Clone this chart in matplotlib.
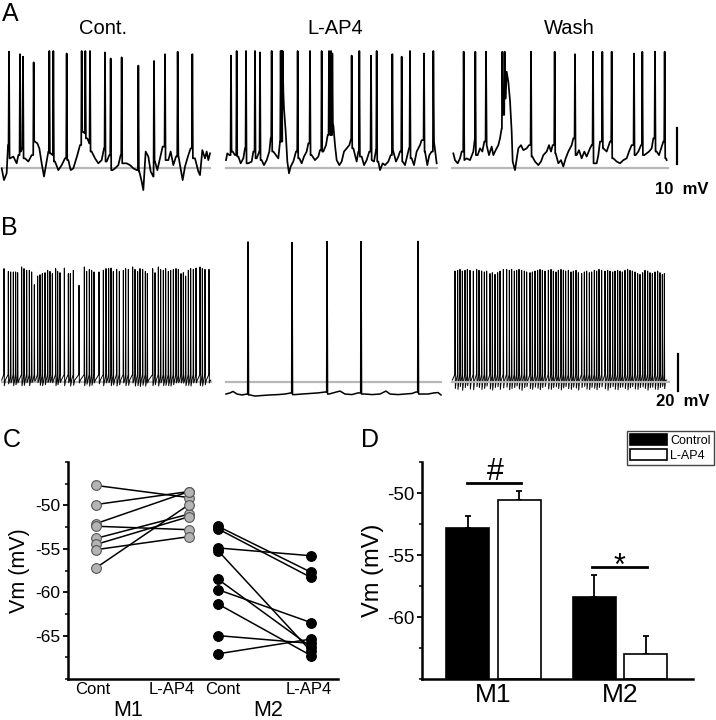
import numpy as np
import matplotlib.pyplot as plt
from matplotlib.ticker import MultipleLocator

plt.rcParams['font.family'] = ['Liberation Sans', 'DejaVu Sans']
plt.rcParams['axes.unicode_minus'] = False

# ---- A: current clamp traces (ms, mV relative to grey reference line)
a_cont_base_t = [15, 36, 60, 72, 90, 120, 150, 165, 186, 198, 225, 255, 285, 315, 336, 354, 375, 396, 420, 435,
                 456, 474, 495, 525, 555, 585, 615, 636, 660, 696, 720, 744, 765, 786, 804, 825, 855, 885, 915, 936,
                 960, 984, 1014, 1035, 1065, 1086, 1110, 1140, 1170, 1200, 1230, 1254, 1275, 1290, 1311, 1335, 1356,
                 1380, 1395, 1416, 1440, 1464, 1485, 1515, 1536, 1560, 1584, 1605, 1620, 1644, 1665, 1695, 1716, 1731,
                 1755, 1785, 1800, 1821, 1845, 1860, 1875, 1890]
a_cont_base_v = [0.0, -3.3, -1.4, 6.5, 2.8, 3.3, 1.4, 3.7, 4.7, 5.6, 2.8, 1.9, 3.7, 7.5, 7.0, 5.6, 1.4, -2.3, 1.9, 4.7,
                 4.2, 3.7, 1.9, -0.5, 0.9, 2.8, 2.3, -0.5, 0.0, 3.7, 6.5, 10.3, 9.8, 8.4, 7.0, 4.7, 2.8, 1.4, 2.3, 5.6,
                 1.9, 3.7, -0.5, 0.0, 0.9, 3.7, 1.4, 1.4, 0.9, 0.0, -0.5, -0.9, -3.7, -6.1, 4.7, 3.3, -0.9, -2.3, 1.9,
                 -0.5, 2.8, 6.1, 4.7, 2.3, 4.7, 0.9, 3.3, 3.7, 0.9, -3.3, 0.5, 3.7, 5.6, 6.1, 2.8, -0.9, -1.9, 5.1,
                 2.8, 4.7, 2.3, 4.2]
a_cont_spk_t = [81, 180, 207, 303, 444, 480, 600, 735, 768, 810, 945, 996, 1095, 1245, 1386, 1485, 1599, 1731]
a_cont_spk_v = [32.7, 32.0, 31.3, 29.7, 32.9, 32.9, 32.2, 32.9, 32.9, 32.9, 32.5, 30.8, 31.1, 28.8, 30.1, 32.0,
                32.7, 32.0]

a_lap4_base_t = [54, 66, 84, 114, 135, 165, 186, 210, 225, 255, 285, 300, 330, 354, 375, 396, 420, 444, 456, 480,
                 504, 525, 540, 570, 576, 591, 606, 621, 636, 660, 684, 714, 735, 756, 780, 795, 825, 855, 885, 900,
                 930, 954, 969, 1020, 1035, 1050, 1074, 1095, 1116, 1140, 1164, 1176, 1200, 1230, 1245, 1275, 1296,
                 1320, 1344, 1365, 1386, 1404, 1425, 1440, 1464, 1485, 1515, 1536, 1560, 1584, 1605, 1620, 1644,
                 1665, 1686, 1701, 1725, 1746, 1770, 1800, 1815, 1845, 1866, 1884, 1905, 1926, 1944, 1950]
a_lap4_base_v = [2.3, 4.2, 3.7, 4.7, 3.7, 3.3, 1.4, 2.8, 5.6, 1.4, 1.9, 4.7, 2.8, 4.7, 2.3, 0.9, 2.3, 4.7, 8.4, 4.7,
                 3.7, 2.8, 7.5, 21.5, 16.8, 10.3, 1.9, -1.4, 0.5, 1.9, 4.7, 2.8, 1.4, 3.3, 4.7, 7.0, 3.7, 2.3, 3.3,
                 5.1, 4.7, 6.5, 9.3, 12.1, 6.5, 2.3, 0.9, 1.9, 4.7, 5.6, 6.5, 7.9, 5.6, 1.9, 4.7, 3.3, 0.9, 2.3, 4.7,
                 2.3, 1.9, 5.1, 1.9, -0.5, 1.4, 0.9, 1.9, 3.7, 4.7, 1.9, 3.3, 4.7, 1.9, 0.9, 3.7, 5.6, 2.8, 0.9, 4.7,
                 6.5, 7.9, 4.7, 0.9, 3.7, 4.7, 7.5, 2.8, 1.4]
a_lap4_spk_t = [99, 150, 234, 315, 360, 465, 546, 555, 564, 699, 810, 915, 981, 999, 1011, 1185, 1254, 1359, 1410,
                1551, 1635, 1710, 1836, 1920]
a_lap4_spk_v = [31.6, 32.9, 32.9, 32.9, 32.5, 32.9, 32.9, 32.9, 32.9, 32.9, 32.9, 32.9, 32.9, 32.9, 32.2, 31.6,
                32.9, 31.6, 32.9, 32.0, 31.3, 32.9, 32.2, 32.9]

a_wash_base_t = [75, 90, 114, 135, 150, 174, 195, 225, 255, 270, 294, 315, 336, 354, 375, 396, 420, 435, 456, 480,
                 495, 510, 528, 546, 555, 570, 585, 600, 609, 630, 660, 684, 705, 735, 756, 786, 810, 840, 864, 885,
                 915, 936, 954, 969, 996, 1020, 1044, 1065, 1086, 1110, 1140, 1155, 1185, 1206, 1230, 1254, 1275,
                 1305, 1320, 1344, 1365, 1380, 1395, 1425, 1455, 1485, 1515, 1545, 1575, 1605, 1635, 1656, 1680,
                 1716, 1740, 1764, 1794, 1815, 1836, 1860, 1875, 1905, 1926, 1950, 1965, 1989, 1995]
a_wash_base_v = [4.2, 2.3, 1.4, 2.8, 4.7, 2.3, 2.8, 2.3, 4.7, 8.4, 3.7, 5.6, 4.7, 7.5, 6.5, 3.7, 6.1, 3.7, 5.1, 6.5,
                 8.4, 11.2, 15.0, 19.6, 27.1, 24.3, 19.0, 10.3, 1.9, -0.5, 5.6, 6.5, 5.1, 5.6, 6.5, 3.3, 1.9, 0.9,
                 1.9, 3.7, 4.7, 6.5, 4.7, 6.5, 4.2, 1.4, 2.3, 0.5, 2.8, 4.7, 6.5, 8.4, 3.7, 5.1, 2.8, 4.7, 3.3, 5.6,
                 6.5, 1.4, 1.4, 3.7, 7.5, 5.6, 4.7, 7.5, 2.8, 1.9, 1.4, 2.3, 2.8, 4.7, 6.5, 3.7, 4.7, 6.5, 3.7, 4.2,
                 4.7, 5.6, 8.4, 4.7, 3.7, 6.1, 7.5, 2.8, 2.3]
a_wash_spk_t = [168, 273, 369, 516, 537, 774, 987, 1170, 1332, 1416, 1500, 1701, 1776, 1890, 1977]
a_wash_spk_v = [32.7, 32.7, 32.7, 32.7, 32.7, 32.7, 32.7, 32.0, 32.7, 32.7, 32.7, 32.2, 32.7, 32.7, 32.7]

# ---- B: long recordings (s, mV relative to grey line)
b_cont_spk_t = [0.36, 0.75, 0.96, 1.20, 1.41, 1.59, 1.95, 2.16, 2.40, 2.64, 2.85, 3.09, 3.39, 3.60, 3.81, 4.05,
                4.29, 4.50, 4.71, 5.01, 5.19, 5.40, 5.79, 6.15, 6.33, 6.60, 7.11, 7.59, 7.80, 8.04, 8.25, 8.46,
                8.91, 9.30, 9.54, 9.78, 9.99, 10.20, 10.50, 10.74, 11.10, 11.31, 11.55, 11.94, 12.15, 12.39, 12.60,
                12.84, 13.08, 13.26, 13.74, 13.95, 14.25, 14.46, 14.70, 14.91, 15.15, 15.36, 15.60, 15.84, 16.05,
                16.29, 16.50, 16.71, 16.95, 17.16, 17.40, 17.64, 18.00, 18.21, 18.45, 18.81]
b_cont_spk_v = [61.3, 59.8, 59.5, 59.5, 59.5, 59.1, 62.2, 61.3, 60.4, 60.4, 59.5, 52.6, 57.3, 58.0, 58.6, 59.1,
                60.4, 59.8, 58.6, 61.3, 59.8, 59.1, 61.6, 58.6, 58.6, 60.4, 52.3, 62.2, 59.8, 60.9, 60.4, 59.5,
                59.5, 60.4, 61.3, 61.3, 61.6, 59.8, 60.9, 59.8, 60.4, 61.3, 60.9, 62.2, 60.9, 59.8, 61.3, 60.9,
                59.8, 58.6, 61.3, 59.1, 62.2, 60.9, 60.4, 61.3, 59.8, 60.4, 60.9, 61.3, 60.9, 58.6, 59.1, 57.3,
                60.4, 61.3, 60.9, 61.6, 62.2, 61.3, 60.9, 60.9]
b_cont_trough = [-2.0, -1.0, -0.5, -2.0, -1.5, -0.5, -2.0, -1.8, -0.4, -2.0, -0.3, 0.5, -0.3, -1.8, -2.0, -1.5,
                 -0.3, -0.2, -0.4, -2.0, -1.5, -0.3, -2.0, -0.4, -2.2, -1.8, -0.5, -2.0, -1.2, -2.2, -1.8, -0.5,
                 -1.0, -2.0, -0.5, -0.4, -2.0, -1.6, -2.2, -1.5, -0.5, -2.0, -1.8, -0.5, -2.2, -2.0, -2.4, -1.8,
                 -2.2, -0.5, -2.0, -1.5, -2.2, -0.5, -2.0, -1.8, -2.0, -2.2, -1.5, -0.5, -0.4, -0.5, -0.6, -2.0,
                 -1.8, -2.2, -0.5, -0.5, -2.0, -2.2, -1.5, -0.5]

b_lap4_base_t = [0.54, 0.90, 1.17, 1.53, 1.98, 2.43, 2.70, 3.15, 3.78, 4.50, 5.22, 5.85, 6.39, 6.75, 7.38, 8.10,
                 8.82, 9.45, 9.81, 10.17, 10.80, 11.25, 11.88, 12.42, 13.05, 13.68, 14.40, 14.94, 15.30, 16.02,
                 16.65, 17.28, 17.64, 18.00, 18.72, 19.26, 19.62, 19.89]
b_lap4_base_v = [-6.5, -5.9, -5.1, -6.5, -7.0, -6.5, -7.0, -7.6, -7.3, -7.0, -6.8, -6.5, -5.9, -6.8, -6.5, -6.2,
                 -5.9, -5.4, -6.5, -5.9, -4.9, -6.5, -6.8, -5.9, -6.5, -6.8, -6.5, -4.9, -6.5, -6.8, -6.5, -6.2,
                 -5.4, -6.5, -6.5, -5.9, -5.7, -7.0]
b_lap4_spk_t = [2.52, 6.48, 9.63, 12.69, 17.82]
b_lap4_spk_v = [75.7, 75.4, 75.9, 75.9, 76.0]

b_wash_spk_t = [0.90, 1.14, 1.35, 1.56, 1.80, 2.01, 2.25, 2.55, 2.85, 3.06, 3.30, 3.54, 3.75, 4.05, 4.26, 4.50,
                4.74, 4.95, 5.25, 5.55, 5.79, 6.00, 6.24, 6.45, 6.66, 6.90, 7.14, 7.35, 7.65, 7.86, 8.10, 8.34,
                8.55, 8.76, 9.00, 9.30, 9.54, 9.75, 9.99, 10.20, 10.44, 10.65, 10.86, 11.10, 11.34, 11.55, 11.79,
                12.00, 12.30, 12.54, 12.75, 12.99, 13.20, 13.44, 13.65, 13.86, 14.10, 14.40, 14.64, 14.85, 15.09,
                15.30, 15.54, 15.75, 15.96, 16.20, 16.44, 16.65, 16.86, 17.10, 17.34, 17.55, 17.79, 18.00, 18.24,
                18.45, 18.66, 18.90, 19.14, 19.35, 19.56, 19.74]
b_wash_spk_v = [60.0, 60.4, 60.9, 60.0, 60.4, 60.9, 60.4, 60.0, 60.9, 60.4, 60.0, 59.5, 60.0, 58.6, 59.1, 58.2,
                59.1, 60.0, 60.9, 60.9, 60.4, 60.9, 60.0, 60.4, 60.9, 60.4, 60.0, 59.5, 59.1, 59.5, 60.0, 60.4,
                60.9, 60.4, 60.0, 60.4, 60.9, 60.0, 59.5, 60.4, 60.9, 60.4, 60.0, 60.4, 59.5, 60.0, 60.4, 59.1,
                58.6, 59.5, 60.0, 59.1, 59.5, 60.4, 60.0, 60.9, 60.4, 60.0, 60.4, 60.0, 59.5, 60.0, 60.4, 60.0,
                59.5, 60.4, 60.9, 60.4, 60.0, 59.5, 58.6, 58.2, 59.1, 60.4, 60.0, 59.1, 58.6, 59.5, 60.0, 59.1,
                58.2, 58.6]
b_wash_trough = [-3.5, -4.0, -2.5, -4.5, -3.0, -2.0, -3.8, -4.2, -2.5, -3.0, -4.0, -3.5, -2.2, -3.8, -4.4, -3.0,
                 -2.5, -4.0, -3.2, -2.8, -4.2, -3.5, -3.0, -2.2, -3.8, -4.5, -3.0, -2.5, -3.6, -4.0, -2.8, -3.4,
                 -4.2, -3.0, -2.4, -3.8, -4.0, -3.0, -2.6, -3.5, -4.3, -3.2, -2.5, -3.6, -4.0, -2.8, -3.3, -4.4,
                 -3.0, -2.4, -3.8, -4.1, -2.9, -3.4, -4.2, -3.0, -2.6, -3.7, -4.5, -3.1, -2.5, -3.9, -4.2, -3.0,
                 -2.7, -3.6, -4.3, -3.2, -2.5, -3.8, -4.0, -3.0, -2.6, -3.5, -4.4, -3.1, -2.8, -3.9, -4.1, -3.0,
                 -2.4, -3.6]

# ---- C: individual cells (mV)
m1_cont = [-47.7, -49.9, -52.1, -52.4, -53.8, -54.5, -55.1, -57.2]
m1_lap4 = [-49.1, -48.4, -48.4, -52.8, -51.0, -51.3, -53.6, -49.9]
m2_cont = [-52.4, -52.7, -54.9, -55.2, -58.5, -59.7, -61.35, -65.0, -67.1]
m2_lap4 = [-57.7, -58.3, -55.8, -66.8, -66.3, -63.5, -67.3, -65.9, -65.4]

# ---- D: means +- SEM (mV)
groups = ['M1', 'M2']
ctrl_mean = [-52.85, -58.4]
ctrl_err = [1.0, 1.75]
lap4_mean = [-50.55, -63.0]
lap4_err = [0.68, 1.5]

W, H = 716, 720
fig = plt.figure(figsize=(W / 100, H / 100), dpi=100)


def px_axes(x0, y0, x1, y1):
    return fig.add_axes([x0 / W, 1 - y1 / H, (x1 - x0) / W, (y1 - y0) / H])


def spike_trace(bt, bv, st, sv, rise, fall):
    bt = np.asarray(bt, float)
    bv = np.asarray(bv, float)
    near = np.zeros(len(bt), bool)
    for s in st:
        near |= np.abs(bt - s) <= fall
    pts = [(t, v) for t, v, n in zip(bt, bv, near) if not n]
    for s, p in zip(st, sv):
        prev = bv[bt < s]
        nxt = bv[bt > s]
        vp = prev[-1] if len(prev) else nxt[0]
        vn = nxt[0] if len(nxt) else vp
        pts += [(s - rise, vp), (s, p), (s + fall, vn)]
    pts.sort()
    t, v = zip(*pts)
    return t, v


def train_trace(st, sv, trough, t0, t1, lo=1.0, hi=4.0):
    pts = [(t0, lo)]
    for s, p, m in zip(st, sv, trough):
        pts += [(s - 0.02, hi), (s, p), (s + 0.03, m), (s + 0.12, lo)]
    pts.append((t1, lo))
    t, v = zip(*pts)
    return t, v


grey = '#b8b8b8'

# panel A
a_specs = [
    ((0, 215), 1935, a_cont_base_t, a_cont_base_v, a_cont_spk_t, a_cont_spk_v, (15, 1890)),
    ((220, 445), 2025, a_lap4_base_t, a_lap4_base_v, a_lap4_spk_t, a_lap4_spk_v, (54, 1950)),
    ((445, 716), 2439, a_wash_base_t, a_wash_base_v, a_wash_spk_t, a_wash_spk_v, (66, 2004)),
]
a_axes = []
for (x0, x1), tmax, bt, bv, st, sv, gl in a_specs:
    ax = px_axes(x0, 45, x1, 195)
    ax.plot(gl, [0, 0], color=grey, lw=1.6, zorder=1)
    t, v = spike_trace(bt, bv, st, sv, 4, 5)
    ax.plot(t, v, color='k', lw=1.25, zorder=2)
    ax.set_xlim(0, tmax)
    ax.set_ylim(-7.48, 34.58)
    ax.axis('off')
    a_axes.append(ax)
a_axes[2].plot([2088, 2088], [1.2, 11.2], color='k', lw=1.6)

# panel B
b_axes = []
for x0, x1, tmax in [(0, 220, 19.8), (220, 445, 20.25), (445, 716, 24.39)]:
    ax = px_axes(x0, 235, x1, 405)
    ax.set_xlim(0, tmax)
    ax.set_ylim(-12.43, 79.46)
    ax.axis('off')
    b_axes.append(ax)

t, v = train_trace(b_cont_spk_t, b_cont_spk_v, b_cont_trough, 0.15, 18.96)
b_axes[0].plot([0.15, 18.96], [0, 0], color=grey, lw=1.6, zorder=1)
b_axes[0].plot(t, v, color='k', lw=0.7, zorder=2)

t, v = spike_trace(b_lap4_base_t, b_lap4_base_v, b_lap4_spk_t, b_lap4_spk_v, 0.03, 0.05)
b_axes[1].plot([0.54, 19.89], [0, 0], color=grey, lw=1.6, zorder=1)
b_axes[1].plot(t, v, color='k', lw=1.1, zorder=2)

t, v = train_trace(b_wash_spk_t, b_wash_spk_v, b_wash_trough, 0.66, 19.95)
b_axes[2].plot([0.6, 20.16], [0, 0], color=grey, lw=1.6, zorder=3)
b_axes[2].plot(t, v, color='k', lw=0.7, zorder=2)
b_axes[2].plot([20.97, 20.97], [-4.9, 15.1], color='k', lw=1.6)

# panel C
axc = px_axes(68, 462, 338, 679)
for xs, a, b, face in [((1.0, 2.0), m1_cont, m1_lap4, '#b4b4b4'), ((2.31, 3.31), m2_cont, m2_lap4, 'k')]:
    edge = '#555555' if face != 'k' else 'k'
    for ya, yb in zip(a, b):
        axc.plot(xs, [ya, yb], color='k', lw=1.1, zorder=2)
    axc.plot([xs[0]] * len(a), a, 'o', ms=7, mfc=face, mec=edge, mew=0.8, zorder=3)
    axc.plot([xs[1]] * len(b), b, 'o', ms=7, mfc=face, mec=edge, mew=0.8, zorder=3)
axc.set_xlim(0.7, 3.6)
axc.set_ylim(-70, -45)
axc.yaxis.set_minor_locator(MultipleLocator(2.5))
axc.set_yticks([-65, -60, -55, -50])
axc.set_xticks([0.965, 1.814, 2.362, 3.29])
axc.set_xticklabels(['Cont', 'L-AP4', 'Cont', 'L-AP4'], fontsize=12)
axc.tick_params(axis='x', length=0, pad=2)
axc.tick_params(axis='y', which='major', length=3.5, width=1.3, labelsize=12.5, pad=2)
axc.tick_params(axis='y', which='minor', length=2.5, width=1.1)
axc.set_ylabel('Vm (mV)', fontsize=15.5, labelpad=4)
for s in ['top', 'right']:
    axc.spines[s].set_visible(False)
for s in ['left', 'bottom']:
    axc.spines[s].set_linewidth(1.8)
axc.text(1.344, -72.4, 'M1', fontsize=15.5, ha='center', va='top')
axc.text(2.85, -72.4, 'M2', fontsize=15.5, ha='center', va='top')

# panel D
axd = px_axes(422, 462, 693, 679)
xg = np.arange(1, len(groups) + 1)
floor = -65
b1 = axd.bar(xg - 0.205, np.array(ctrl_mean) - floor, bottom=floor, width=0.34, color='k',
             edgecolor='k', lw=1.2, label='Control', zorder=2)
b2 = axd.bar(xg + 0.205, np.array(lap4_mean) - floor, bottom=floor, width=0.34, color='white',
             edgecolor='k', lw=1.2, label='L-AP4', zorder=2)
axd.errorbar(xg - 0.205, ctrl_mean, yerr=[np.zeros(2), ctrl_err], fmt='none', ecolor='k',
             elinewidth=1.3, capsize=2.5, capthick=1.3, zorder=1)
axd.errorbar(xg + 0.205, lap4_mean, yerr=[np.zeros(2), lap4_err], fmt='none', ecolor='k',
             elinewidth=1.3, capsize=2.5, capthick=1.3, zorder=1)
axd.plot([0.79, 1.217], [-49.2, -49.2], color='k', lw=2)
axd.text(1.012, -48.96, '#', fontsize=22, ha='center', va='baseline')
axd.plot([1.78, 2.21], [-56.0, -56.0], color='k', lw=2)
axd.text(2.0, -56.6, '*', fontsize=22, ha='center', va='baseline')
axd.set_xlim(0.435, 2.577)
axd.set_ylim(-65, -47.5)
axd.set_yticks([-60, -55, -50])
axd.yaxis.set_minor_locator(MultipleLocator(2.5))
axd.set_xticks(xg)
axd.set_xticklabels(groups, fontsize=19)
axd.tick_params(axis='x', length=0, pad=3)
axd.tick_params(axis='y', which='major', length=3.5, width=1.3, labelsize=13.5, pad=2)
axd.tick_params(axis='y', which='minor', length=2.5, width=1.1)
axd.set_ylabel('Vm (mV)', fontsize=17, labelpad=2)
for s in ['top', 'right']:
    axd.spines[s].set_visible(False)
for s in ['left', 'bottom']:
    axd.spines[s].set_linewidth(1.8)
axd.legend(handles=[b1, b2], loc='upper right', bbox_to_anchor=(714 / W, 1 - 431 / H),
           bbox_transform=fig.transFigure, fontsize=9, handlelength=2.9, handleheight=0.9,
           borderpad=0.25, labelspacing=0.2, handletextpad=0.3, fancybox=False,
           edgecolor='#444444', framealpha=1, borderaxespad=0)


# labels
def ftext(x, y, s, **kw):
    fig.text(x / W, 1 - y / H, s, **kw)


ftext(2, 14, 'A', fontsize=18, va='center')
ftext(1, 228, 'B', fontsize=18, va='center')
ftext(3, 440, 'C', fontsize=18, va='center')
ftext(361, 440, 'D', fontsize=18, va='center')
ftext(103, 28, 'Cont.', fontsize=14.5, ha='center', va='center')
ftext(335, 28, 'L-AP4', fontsize=14.5, ha='center', va='center')
ftext(569, 28, 'Wash', fontsize=14.5, ha='center', va='center')
ftext(682, 189, '10  mV', fontsize=12, fontweight='bold', ha='center', va='center')
ftext(683, 402, '20  mV', fontsize=12, fontweight='bold', ha='center', va='center')

fig.savefig('out.png', dpi=100)
